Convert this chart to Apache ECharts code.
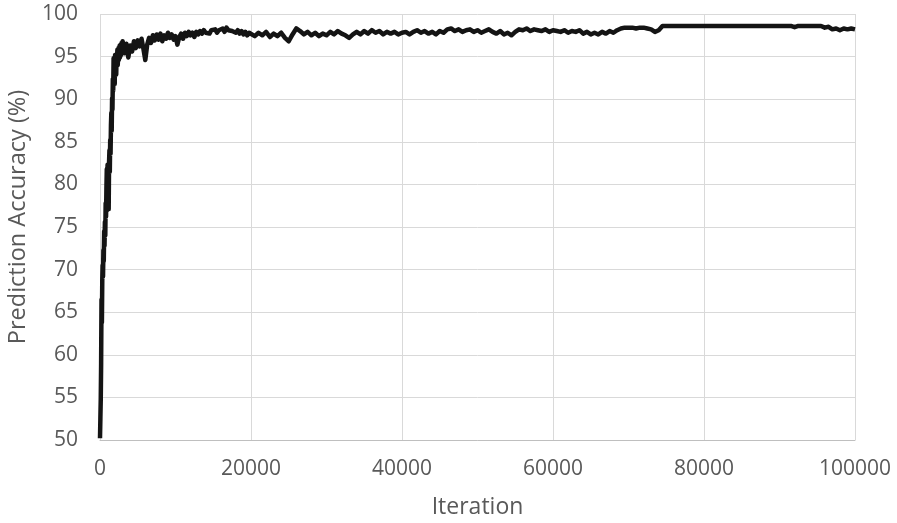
<!DOCTYPE html>
<html>
<head>
<meta charset="utf-8">
<script src="https://cdn.jsdelivr.net/npm/echarts@6/dist/echarts.min.js"></script>
<style>
  html, body { margin: 0; padding: 0; background: #fff; }
  #chart { width: 897px; height: 523px; }
</style>
</head>
<body>
<div id="chart"></div>
<script>
// accuracy samples, split by sampling step
// ramp: iterations 0..3000, every 50
const rampStart = 0, rampStep = 50;
const rampAcc = [
  50.2, 52.5, 54.8, 59.0, 66.5, 63.8, 68.7, 70.5, 69.2, 72.3,
  71.0, 74.5, 72.8, 75.6, 74.0, 77.8, 76.2, 79.5, 81.8, 77.0,
  82.3, 79.4, 80.6, 77.1, 82.6, 84.0, 81.5, 85.2, 83.6, 86.9,
  88.4, 86.3, 90.1, 88.8, 92.4, 91.0, 94.8, 92.6, 94.1, 91.8,
  95.2, 93.4, 94.6, 92.9, 95.3, 94.2, 95.8, 94.0, 95.1, 96.0,
  94.6, 95.5, 96.3, 94.9, 95.7, 96.4, 95.2, 96.6, 95.4, 96.2,
  96.8
];

// early plateau: iterations 3250..20000, every 250
const earlyStart = 3250, earlyStep = 250;
const earlyAcc = [
  95.4, 96.5, 94.9, 96.3, 95.6, 96.8, 96.0, 96.9, 96.2, 97.1,
  95.9, 94.6, 96.4, 97.2, 96.6, 97.5, 96.9, 97.6, 97.0, 97.7,
  96.8, 97.5, 97.1, 97.8, 97.2, 97.6, 97.0, 97.4, 96.4, 97.3,
  97.7, 97.1, 97.8, 97.4, 97.9, 97.5, 97.8, 97.3, 97.9, 97.6,
  98.0, 97.7, 98.1, 97.8, 98.0, 97.7, 98.1, 97.9, 98.2, 97.8,
  98.1, 98.0, 98.3, 97.9, 98.4, 98.1, 98.3, 98.0, 98.2, 97.8,
  98.1, 97.7, 98.0, 97.6, 97.9, 97.5, 97.8, 97.6
];

// middle: iterations 20500..74000, every 500
const midStart = 20500, midStep = 500;
const midAcc = [
  97.4, 97.8, 97.5, 97.9, 97.3, 97.7, 97.4, 97.8, 97.2, 96.8,
  97.6, 98.3, 98.0, 97.6, 97.9, 97.5, 97.8, 97.4, 97.7, 97.5,
  97.9, 97.6, 98.0, 97.7, 97.5, 97.2, 97.6, 97.9, 97.6, 98.0,
  97.7, 98.1, 97.8, 98.0, 97.6, 97.9, 97.7, 97.9, 97.6, 97.8,
  97.9, 97.6, 97.9, 98.1, 97.8, 98.0, 97.7, 97.9, 97.6, 98.0,
  97.8, 98.2, 98.3, 98.0, 98.2, 97.9, 98.1, 98.2, 97.9, 98.1,
  97.8, 98.0, 98.2, 97.9, 97.7, 98.0, 97.6, 97.8, 97.5, 97.9,
  98.2, 98.1, 98.3, 98.0, 98.2, 98.1, 98.0, 98.2, 97.9, 98.1,
  98.0, 97.9, 98.1, 97.8, 98.0, 97.9, 98.1, 97.7, 97.9, 97.6,
  97.8, 97.6, 97.9, 97.7, 98.0, 97.8, 98.1, 98.3, 98.4, 98.4,
  98.4, 98.3, 98.4, 98.4, 98.3, 98.2, 97.9, 98.1
];

// late flat part, explicit iterations
const lateIter = [74500, 80000, 86000, 91500, 92000, 92500, 95500, 96000, 96500, 97000, 97500, 98000, 98500, 99000, 99500, 100000];
const lateAcc  = [98.6, 98.6, 98.6, 98.6, 98.45, 98.6, 98.6, 98.4, 98.5, 98.2, 98.3, 98.1, 98.3, 98.2, 98.3, 98.2];

const xTicks = [0, 20000, 40000, 60000, 80000, 100000];
const yTicks = [50, 55, 60, 65, 70, 75, 80, 85, 90, 95, 100];

const points = [];
rampAcc.forEach((v, i) => points.push([rampStart + i * rampStep, v]));
earlyAcc.forEach((v, i) => points.push([earlyStart + i * earlyStep, v]));
midAcc.forEach((v, i) => points.push([midStart + i * midStep, v]));
lateAcc.forEach((v, i) => points.push([lateIter[i], v]));

const font = '"Open Sans", "Noto Sans", sans-serif';
const gray = '#595959';

const chart = echarts.init(document.getElementById('chart'));
chart.setOption({
  animation: false,
  backgroundColor: '#fff',
  grid: { left: 100, right: 42, top: 14, bottom: 83, outerBoundsMode: 'none' },
  xAxis: {
    type: 'value',
    min: xTicks[0],
    max: xTicks[xTicks.length - 1],
    interval: xTicks[1] - xTicks[0],
    name: 'Iteration',
    nameLocation: 'middle',
    nameGap: 56,
    nameTextStyle: { fontFamily: font, fontSize: 23, color: gray },
    axisLine: { show: true, lineStyle: { color: '#bfbfbf', width: 1 } },
    axisTick: { show: false },
    axisLabel: { fontFamily: font, fontSize: 21, color: gray, margin: 19, formatter: v => String(v) },
    splitLine: { show: true, lineStyle: { color: '#d9d9d9', width: 1 } }
  },
  yAxis: {
    type: 'value',
    min: yTicks[0],
    max: yTicks[yTicks.length - 1],
    interval: yTicks[1] - yTicks[0],
    name: 'Prediction Accuracy (%)',
    nameLocation: 'middle',
    nameGap: 70,
    nameTextStyle: { fontFamily: font, fontSize: 23.5, color: gray, padding: [0, 0, 0, 20] },
    axisLine: { show: false },
    axisTick: { show: false },
    axisLabel: { fontFamily: font, fontSize: 21, color: gray, margin: 22 },
    splitLine: { show: true, lineStyle: { color: '#d9d9d9', width: 1 } }
  },
  series: [{
    type: 'line',
    data: points,
    showSymbol: false,
    lineStyle: { color: '#141414', width: 4.5, join: 'round' },
    z: 3
  }]
});
</script>
</body>
</html>
